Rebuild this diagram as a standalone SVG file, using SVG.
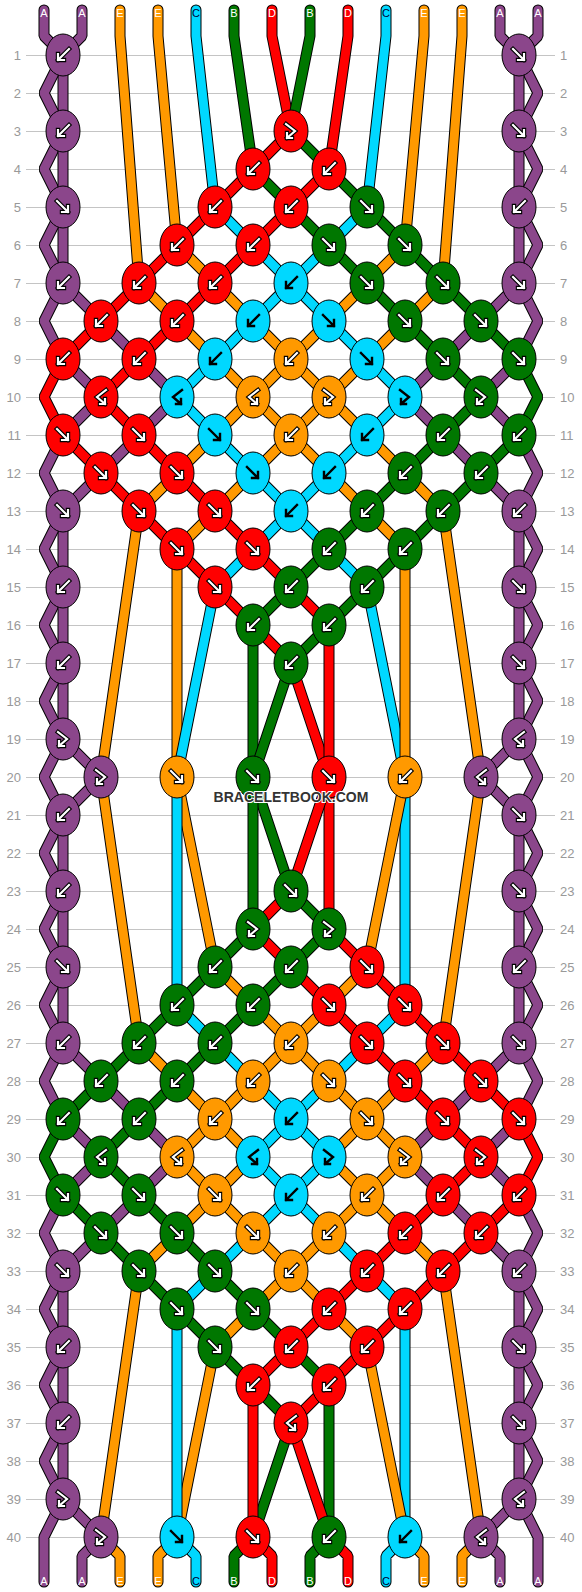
<svg xmlns="http://www.w3.org/2000/svg" width="582" height="1592" viewBox="0 0 582 1592">
<style>
.grid{stroke:#c4c4c4;stroke-width:1;fill:none}
.rn{font-family:"Liberation Sans",Arial,sans-serif;font-size:13px;fill:#999}
.rl{text-anchor:end}
.o{fill:none;stroke:#000;stroke-width:11;stroke-linejoin:bevel;stroke-linecap:round}
.c{fill:none;stroke-width:9;stroke-linejoin:bevel;stroke-linecap:round}
.sA{stroke:#8b468b}.sE{stroke:#ff9900}.sC{stroke:#00d8ff}.sG{stroke:#007700}.sD{stroke:#ff0000}
.kA{fill:#8b468b}.kE{fill:#ff9900}.kC{fill:#00d8ff}.kG{fill:#007700}.kD{fill:#ff0000}
.ao{fill:none;stroke:#000;stroke-width:4.4;stroke-linecap:square;stroke-linejoin:miter}
.ai{fill:none;stroke:#fff;stroke-width:2.2;stroke-linecap:square;stroke-linejoin:miter}
.ab{fill:none;stroke:#000;stroke-width:2.4;stroke-linecap:square;stroke-linejoin:miter}
.lb{font-family:"Liberation Sans",Arial,sans-serif;font-size:11px;fill:#fff;text-anchor:middle}
.lbk{fill:#003}
.wm{font-family:"Liberation Sans",Arial,sans-serif;font-size:14px;font-weight:bold;fill:#333;text-anchor:middle;stroke:#fff;stroke-width:2;paint-order:stroke}
</style>
<defs>
<path id="gB" d="M6,-6L-5,5M-5,-1L-5,5L1,5"/>
<path id="gF" d="M-6,-6L5,5M5,-1L5,5L-1,5"/>
<path id="gFB" d="M-5,-7L4,0L-4,7M-4,2L-4,7L1,7"/>
<path id="gBF" d="M5,-7L-4,0L4,7M4,2L4,7L-1,7"/>
<g id="aB"><use href="#gB" class="ao"/><use href="#gB" class="ai"/></g>
<g id="aF"><use href="#gF" class="ao"/><use href="#gF" class="ai"/></g>
<g id="aFB"><use href="#gFB" class="ao"/><use href="#gFB" class="ai"/></g>
<g id="aBF"><use href="#gBF" class="ao"/><use href="#gBF" class="ai"/></g>
<g id="cB"><use href="#gB" class="ab"/></g>
<g id="cF"><use href="#gF" class="ab"/></g>
<g id="cFB"><use href="#gFB" class="ab"/></g>
<g id="cBF"><use href="#gBF" class="ab"/></g>
<ellipse id="kn" rx="17" ry="21" stroke="#000" stroke-width="1"/>
<path id="p0" d="M44,10L44,36L63,55L63,131L44,169L63,207L63,283L44,321L63,359L101,397L63,435L44,473L63,511L63,587L44,625L63,663L63,739L101,777L63,815L44,853L63,891L63,967L44,1005L63,1043L101,1081L139,1119L177,1157L139,1195L101,1233L63,1271L44,1309L63,1347L63,1423L44,1461L63,1499L44,1537L44,1582"/>
<path id="p1" d="M82,10L82,36L63,55L44,93L63,131L63,207L44,245L63,283L101,321L139,359L177,397L139,435L101,473L63,511L44,549L63,587L63,663L44,701L63,739L44,777L63,815L63,891L44,929L63,967L63,1043L44,1081L63,1119L101,1157L63,1195L44,1233L63,1271L63,1347L44,1385L63,1423L63,1499L101,1537L82,1556L82,1582"/>
<path id="p2" d="M120,10L120,36L139,283L177,321L215,359L253,397L215,435L177,473L139,511L101,777L139,1043L177,1081L215,1119L253,1157L215,1195L177,1233L139,1271L101,1537L120,1556L120,1582"/>
<path id="p3" d="M158,10L158,36L177,245L215,283L253,321L291,359L329,397L291,435L253,473L215,511L177,549L177,777L215,967L253,1005L291,1043L329,1081L367,1119L405,1157L367,1195L329,1233L291,1271L253,1309L215,1347L177,1537L158,1556L158,1582"/>
<path id="p4" d="M196,10L196,36L215,207L253,245L291,283L329,321L367,359L405,397L367,435L329,473L291,511L253,549L215,587L177,777L177,1005L215,1043L253,1081L291,1119L329,1157L291,1195L253,1233L215,1271L177,1309L177,1537L196,1556L196,1582"/>
<path id="p5" d="M234,10L234,36L253,169L291,207L329,245L367,283L405,321L443,359L481,397L443,435L405,473L367,511L329,549L291,587L253,625L253,777L291,891L329,929L291,967L253,1005L215,1043L177,1081L139,1119L101,1157L139,1195L177,1233L215,1271L253,1309L291,1347L329,1385L329,1537L310,1556L310,1582"/>
<path id="p6" d="M272,10L272,36L291,131L253,169L215,207L177,245L139,283L101,321L63,359L44,397L63,435L101,473L139,511L177,549L215,587L253,625L291,663L329,777L329,929L367,967L405,1005L443,1043L481,1081L519,1119L538,1157L519,1195L481,1233L443,1271L405,1309L367,1347L329,1385L291,1423L329,1537L348,1556L348,1582"/>
<path id="p7" d="M310,10L310,36L291,131L329,169L367,207L405,245L443,283L481,321L519,359L538,397L519,435L481,473L443,511L405,549L367,587L329,625L291,663L253,777L253,929L215,967L177,1005L139,1043L101,1081L63,1119L44,1157L63,1195L101,1233L139,1271L177,1309L215,1347L253,1385L291,1423L253,1537L234,1556L234,1582"/>
<path id="p8" d="M348,10L348,36L329,169L291,207L253,245L215,283L177,321L139,359L101,397L139,435L177,473L215,511L253,549L291,587L329,625L329,777L291,891L253,929L291,967L329,1005L367,1043L405,1081L443,1119L481,1157L443,1195L405,1233L367,1271L329,1309L291,1347L253,1385L253,1537L272,1556L272,1582"/>
<path id="p9" d="M386,10L386,36L367,207L329,245L291,283L253,321L215,359L177,397L215,435L253,473L291,511L329,549L367,587L405,777L405,1005L367,1043L329,1081L291,1119L253,1157L291,1195L329,1233L367,1271L405,1309L405,1537L386,1556L386,1582"/>
<path id="p10" d="M424,10L424,36L405,245L367,283L329,321L291,359L253,397L291,435L329,473L367,511L405,549L405,777L367,967L329,1005L291,1043L253,1081L215,1119L177,1157L215,1195L253,1233L291,1271L329,1309L367,1347L405,1537L424,1556L424,1582"/>
<path id="p11" d="M462,10L462,36L443,283L405,321L367,359L329,397L367,435L405,473L443,511L481,777L443,1043L405,1081L367,1119L329,1157L367,1195L405,1233L443,1271L481,1537L462,1556L462,1582"/>
<path id="p12" d="M500,10L500,36L519,55L538,93L519,131L519,207L538,245L519,283L481,321L443,359L405,397L443,435L481,473L519,511L538,549L519,587L519,663L538,701L519,739L538,777L519,815L519,891L538,929L519,967L519,1043L538,1081L519,1119L481,1157L519,1195L538,1233L519,1271L519,1347L538,1385L519,1423L519,1499L481,1537L500,1556L500,1582"/>
<path id="p13" d="M538,10L538,36L519,55L519,131L538,169L519,207L519,283L538,321L519,359L481,397L519,435L538,473L519,511L519,587L538,625L519,663L519,739L481,777L519,815L538,853L519,891L519,967L538,1005L519,1043L481,1081L443,1119L405,1157L443,1195L481,1233L519,1271L538,1309L519,1347L519,1423L538,1461L519,1499L538,1537L538,1582"/>
</defs>
<rect width="582" height="1592" fill="#fff"/>
<path class="grid" shape-rendering="crispEdges" d="M26,55H555M26,93H555M26,131H555M26,169H555M26,207H555M26,245H555M26,283H555M26,321H555M26,359H555M26,397H555M26,435H555M26,473H555M26,511H555M26,549H555M26,587H555M26,625H555M26,663H555M26,701H555M26,739H555M26,777H555M26,815H555M26,853H555M26,891H555M26,929H555M26,967H555M26,1005H555M26,1043H555M26,1081H555M26,1119H555M26,1157H555M26,1195H555M26,1233H555M26,1271H555M26,1309H555M26,1347H555M26,1385H555M26,1423H555M26,1461H555M26,1499H555M26,1537H555"/>
<g id="rownums-left" class="rn rl">
<text x="21" y="59.5">1</text><text x="21" y="97.5">2</text><text x="21" y="135.5">3</text><text x="21" y="173.5">4</text><text x="21" y="211.5">5</text><text x="21" y="249.5">6</text><text x="21" y="287.5">7</text><text x="21" y="325.5">8</text><text x="21" y="363.5">9</text><text x="21" y="401.5">10</text><text x="21" y="439.5">11</text><text x="21" y="477.5">12</text><text x="21" y="515.5">13</text><text x="21" y="553.5">14</text><text x="21" y="591.5">15</text><text x="21" y="629.5">16</text><text x="21" y="667.5">17</text><text x="21" y="705.5">18</text><text x="21" y="743.5">19</text><text x="21" y="781.5">20</text><text x="21" y="819.5">21</text><text x="21" y="857.5">22</text><text x="21" y="895.5">23</text><text x="21" y="933.5">24</text><text x="21" y="971.5">25</text><text x="21" y="1009.5">26</text><text x="21" y="1047.5">27</text><text x="21" y="1085.5">28</text><text x="21" y="1123.5">29</text><text x="21" y="1161.5">30</text><text x="21" y="1199.5">31</text><text x="21" y="1237.5">32</text><text x="21" y="1275.5">33</text><text x="21" y="1313.5">34</text><text x="21" y="1351.5">35</text><text x="21" y="1389.5">36</text><text x="21" y="1427.5">37</text><text x="21" y="1465.5">38</text><text x="21" y="1503.5">39</text><text x="21" y="1541.5">40</text>
</g>
<g id="rownums-right" class="rn">
<text x="560" y="59.5">1</text><text x="560" y="97.5">2</text><text x="560" y="135.5">3</text><text x="560" y="173.5">4</text><text x="560" y="211.5">5</text><text x="560" y="249.5">6</text><text x="560" y="287.5">7</text><text x="560" y="325.5">8</text><text x="560" y="363.5">9</text><text x="560" y="401.5">10</text><text x="560" y="439.5">11</text><text x="560" y="477.5">12</text><text x="560" y="515.5">13</text><text x="560" y="553.5">14</text><text x="560" y="591.5">15</text><text x="560" y="629.5">16</text><text x="560" y="667.5">17</text><text x="560" y="705.5">18</text><text x="560" y="743.5">19</text><text x="560" y="781.5">20</text><text x="560" y="819.5">21</text><text x="560" y="857.5">22</text><text x="560" y="895.5">23</text><text x="560" y="933.5">24</text><text x="560" y="971.5">25</text><text x="560" y="1009.5">26</text><text x="560" y="1047.5">27</text><text x="560" y="1085.5">28</text><text x="560" y="1123.5">29</text><text x="560" y="1161.5">30</text><text x="560" y="1199.5">31</text><text x="560" y="1237.5">32</text><text x="560" y="1275.5">33</text><text x="560" y="1313.5">34</text><text x="560" y="1351.5">35</text><text x="560" y="1389.5">36</text><text x="560" y="1427.5">37</text><text x="560" y="1465.5">38</text><text x="560" y="1503.5">39</text><text x="560" y="1541.5">40</text>
</g>
<g id="connectors">
<g id="str0"><use href="#p0" class="o"/><use href="#p0" class="c sA"/></g>
<g id="str1"><use href="#p1" class="o"/><use href="#p1" class="c sA"/></g>
<g id="str2"><use href="#p2" class="o"/><use href="#p2" class="c sE"/></g>
<g id="str3"><use href="#p3" class="o"/><use href="#p3" class="c sE"/></g>
<g id="str4"><use href="#p4" class="o"/><use href="#p4" class="c sC"/></g>
<g id="str5"><use href="#p5" class="o"/><use href="#p5" class="c sG"/></g>
<g id="str6"><use href="#p6" class="o"/><use href="#p6" class="c sD"/></g>
<g id="str7"><use href="#p7" class="o"/><use href="#p7" class="c sG"/></g>
<g id="str8"><use href="#p8" class="o"/><use href="#p8" class="c sD"/></g>
<g id="str9"><use href="#p9" class="o"/><use href="#p9" class="c sC"/></g>
<g id="str10"><use href="#p10" class="o"/><use href="#p10" class="c sE"/></g>
<g id="str11"><use href="#p11" class="o"/><use href="#p11" class="c sE"/></g>
<g id="str12"><use href="#p12" class="o"/><use href="#p12" class="c sA"/></g>
<g id="str13"><use href="#p13" class="o"/><use href="#p13" class="c sA"/></g>
</g>
<g id="knots">
<g id="k1-0" class="kA" transform="translate(63,55)"><use href="#kn"/><use href="#aB"/></g>
<g id="k1-12" class="kA" transform="translate(519,55)"><use href="#kn"/><use href="#aF"/></g>
<g id="k3-0" class="kA" transform="translate(63,131)"><use href="#kn"/><use href="#aB"/></g>
<g id="k3-6" class="kD" transform="translate(291,131)"><use href="#kn"/><use href="#aFB"/></g>
<g id="k3-12" class="kA" transform="translate(519,131)"><use href="#kn"/><use href="#aF"/></g>
<g id="k4-5" class="kD" transform="translate(253,169)"><use href="#kn"/><use href="#aB"/></g>
<g id="k4-7" class="kD" transform="translate(329,169)"><use href="#kn"/><use href="#aB"/></g>
<g id="k5-0" class="kA" transform="translate(63,207)"><use href="#kn"/><use href="#aF"/></g>
<g id="k5-4" class="kD" transform="translate(215,207)"><use href="#kn"/><use href="#aB"/></g>
<g id="k5-6" class="kD" transform="translate(291,207)"><use href="#kn"/><use href="#aB"/></g>
<g id="k5-8" class="kG" transform="translate(367,207)"><use href="#kn"/><use href="#aF"/></g>
<g id="k5-12" class="kA" transform="translate(519,207)"><use href="#kn"/><use href="#aB"/></g>
<g id="k6-3" class="kD" transform="translate(177,245)"><use href="#kn"/><use href="#aB"/></g>
<g id="k6-5" class="kD" transform="translate(253,245)"><use href="#kn"/><use href="#aB"/></g>
<g id="k6-7" class="kG" transform="translate(329,245)"><use href="#kn"/><use href="#aF"/></g>
<g id="k6-9" class="kG" transform="translate(405,245)"><use href="#kn"/><use href="#aF"/></g>
<g id="k7-0" class="kA" transform="translate(63,283)"><use href="#kn"/><use href="#aB"/></g>
<g id="k7-2" class="kD" transform="translate(139,283)"><use href="#kn"/><use href="#aB"/></g>
<g id="k7-4" class="kD" transform="translate(215,283)"><use href="#kn"/><use href="#aB"/></g>
<g id="k7-6" class="kC" transform="translate(291,283)"><use href="#kn"/><use href="#cB"/></g>
<g id="k7-8" class="kG" transform="translate(367,283)"><use href="#kn"/><use href="#aF"/></g>
<g id="k7-10" class="kG" transform="translate(443,283)"><use href="#kn"/><use href="#aF"/></g>
<g id="k7-12" class="kA" transform="translate(519,283)"><use href="#kn"/><use href="#aF"/></g>
<g id="k8-1" class="kD" transform="translate(101,321)"><use href="#kn"/><use href="#aB"/></g>
<g id="k8-3" class="kD" transform="translate(177,321)"><use href="#kn"/><use href="#aB"/></g>
<g id="k8-5" class="kC" transform="translate(253,321)"><use href="#kn"/><use href="#cB"/></g>
<g id="k8-7" class="kC" transform="translate(329,321)"><use href="#kn"/><use href="#cF"/></g>
<g id="k8-9" class="kG" transform="translate(405,321)"><use href="#kn"/><use href="#aF"/></g>
<g id="k8-11" class="kG" transform="translate(481,321)"><use href="#kn"/><use href="#aF"/></g>
<g id="k9-0" class="kD" transform="translate(63,359)"><use href="#kn"/><use href="#aB"/></g>
<g id="k9-2" class="kD" transform="translate(139,359)"><use href="#kn"/><use href="#aB"/></g>
<g id="k9-4" class="kC" transform="translate(215,359)"><use href="#kn"/><use href="#cB"/></g>
<g id="k9-6" class="kE" transform="translate(291,359)"><use href="#kn"/><use href="#aB"/></g>
<g id="k9-8" class="kC" transform="translate(367,359)"><use href="#kn"/><use href="#cF"/></g>
<g id="k9-10" class="kG" transform="translate(443,359)"><use href="#kn"/><use href="#aF"/></g>
<g id="k9-12" class="kG" transform="translate(519,359)"><use href="#kn"/><use href="#aF"/></g>
<g id="k10-1" class="kD" transform="translate(101,397)"><use href="#kn"/><use href="#aBF"/></g>
<g id="k10-3" class="kC" transform="translate(177,397)"><use href="#kn"/><use href="#cBF"/></g>
<g id="k10-5" class="kE" transform="translate(253,397)"><use href="#kn"/><use href="#aBF"/></g>
<g id="k10-7" class="kE" transform="translate(329,397)"><use href="#kn"/><use href="#aFB"/></g>
<g id="k10-9" class="kC" transform="translate(405,397)"><use href="#kn"/><use href="#cFB"/></g>
<g id="k10-11" class="kG" transform="translate(481,397)"><use href="#kn"/><use href="#aFB"/></g>
<g id="k11-0" class="kD" transform="translate(63,435)"><use href="#kn"/><use href="#aF"/></g>
<g id="k11-2" class="kD" transform="translate(139,435)"><use href="#kn"/><use href="#aF"/></g>
<g id="k11-4" class="kC" transform="translate(215,435)"><use href="#kn"/><use href="#cF"/></g>
<g id="k11-6" class="kE" transform="translate(291,435)"><use href="#kn"/><use href="#aB"/></g>
<g id="k11-8" class="kC" transform="translate(367,435)"><use href="#kn"/><use href="#cB"/></g>
<g id="k11-10" class="kG" transform="translate(443,435)"><use href="#kn"/><use href="#aB"/></g>
<g id="k11-12" class="kG" transform="translate(519,435)"><use href="#kn"/><use href="#aB"/></g>
<g id="k12-1" class="kD" transform="translate(101,473)"><use href="#kn"/><use href="#aF"/></g>
<g id="k12-3" class="kD" transform="translate(177,473)"><use href="#kn"/><use href="#aF"/></g>
<g id="k12-5" class="kC" transform="translate(253,473)"><use href="#kn"/><use href="#cF"/></g>
<g id="k12-7" class="kC" transform="translate(329,473)"><use href="#kn"/><use href="#cB"/></g>
<g id="k12-9" class="kG" transform="translate(405,473)"><use href="#kn"/><use href="#aB"/></g>
<g id="k12-11" class="kG" transform="translate(481,473)"><use href="#kn"/><use href="#aB"/></g>
<g id="k13-0" class="kA" transform="translate(63,511)"><use href="#kn"/><use href="#aF"/></g>
<g id="k13-2" class="kD" transform="translate(139,511)"><use href="#kn"/><use href="#aF"/></g>
<g id="k13-4" class="kD" transform="translate(215,511)"><use href="#kn"/><use href="#aF"/></g>
<g id="k13-6" class="kC" transform="translate(291,511)"><use href="#kn"/><use href="#cB"/></g>
<g id="k13-8" class="kG" transform="translate(367,511)"><use href="#kn"/><use href="#aB"/></g>
<g id="k13-10" class="kG" transform="translate(443,511)"><use href="#kn"/><use href="#aB"/></g>
<g id="k13-12" class="kA" transform="translate(519,511)"><use href="#kn"/><use href="#aB"/></g>
<g id="k14-3" class="kD" transform="translate(177,549)"><use href="#kn"/><use href="#aF"/></g>
<g id="k14-5" class="kD" transform="translate(253,549)"><use href="#kn"/><use href="#aF"/></g>
<g id="k14-7" class="kG" transform="translate(329,549)"><use href="#kn"/><use href="#aB"/></g>
<g id="k14-9" class="kG" transform="translate(405,549)"><use href="#kn"/><use href="#aB"/></g>
<g id="k15-0" class="kA" transform="translate(63,587)"><use href="#kn"/><use href="#aB"/></g>
<g id="k15-4" class="kD" transform="translate(215,587)"><use href="#kn"/><use href="#aF"/></g>
<g id="k15-6" class="kG" transform="translate(291,587)"><use href="#kn"/><use href="#aB"/></g>
<g id="k15-8" class="kG" transform="translate(367,587)"><use href="#kn"/><use href="#aB"/></g>
<g id="k15-12" class="kA" transform="translate(519,587)"><use href="#kn"/><use href="#aF"/></g>
<g id="k16-5" class="kG" transform="translate(253,625)"><use href="#kn"/><use href="#aB"/></g>
<g id="k16-7" class="kG" transform="translate(329,625)"><use href="#kn"/><use href="#aB"/></g>
<g id="k17-0" class="kA" transform="translate(63,663)"><use href="#kn"/><use href="#aB"/></g>
<g id="k17-6" class="kG" transform="translate(291,663)"><use href="#kn"/><use href="#aB"/></g>
<g id="k17-12" class="kA" transform="translate(519,663)"><use href="#kn"/><use href="#aF"/></g>
<g id="k19-0" class="kA" transform="translate(63,739)"><use href="#kn"/><use href="#aFB"/></g>
<g id="k19-12" class="kA" transform="translate(519,739)"><use href="#kn"/><use href="#aBF"/></g>
<g id="k20-1" class="kA" transform="translate(101,777)"><use href="#kn"/><use href="#aFB"/></g>
<g id="k20-3" class="kE" transform="translate(177,777)"><use href="#kn"/><use href="#aF"/></g>
<g id="k20-5" class="kG" transform="translate(253,777)"><use href="#kn"/><use href="#aF"/></g>
<g id="k20-7" class="kD" transform="translate(329,777)"><use href="#kn"/><use href="#aF"/></g>
<g id="k20-9" class="kE" transform="translate(405,777)"><use href="#kn"/><use href="#aB"/></g>
<g id="k20-11" class="kA" transform="translate(481,777)"><use href="#kn"/><use href="#aBF"/></g>
<g id="k21-0" class="kA" transform="translate(63,815)"><use href="#kn"/><use href="#aB"/></g>
<g id="k21-12" class="kA" transform="translate(519,815)"><use href="#kn"/><use href="#aF"/></g>
<g id="k23-0" class="kA" transform="translate(63,891)"><use href="#kn"/><use href="#aB"/></g>
<g id="k23-6" class="kG" transform="translate(291,891)"><use href="#kn"/><use href="#aF"/></g>
<g id="k23-12" class="kA" transform="translate(519,891)"><use href="#kn"/><use href="#aF"/></g>
<g id="k24-5" class="kG" transform="translate(253,929)"><use href="#kn"/><use href="#aFB"/></g>
<g id="k24-7" class="kG" transform="translate(329,929)"><use href="#kn"/><use href="#aFB"/></g>
<g id="k25-0" class="kA" transform="translate(63,967)"><use href="#kn"/><use href="#aF"/></g>
<g id="k25-4" class="kG" transform="translate(215,967)"><use href="#kn"/><use href="#aB"/></g>
<g id="k25-6" class="kG" transform="translate(291,967)"><use href="#kn"/><use href="#aB"/></g>
<g id="k25-8" class="kD" transform="translate(367,967)"><use href="#kn"/><use href="#aF"/></g>
<g id="k25-12" class="kA" transform="translate(519,967)"><use href="#kn"/><use href="#aB"/></g>
<g id="k26-3" class="kG" transform="translate(177,1005)"><use href="#kn"/><use href="#aB"/></g>
<g id="k26-5" class="kG" transform="translate(253,1005)"><use href="#kn"/><use href="#aB"/></g>
<g id="k26-7" class="kD" transform="translate(329,1005)"><use href="#kn"/><use href="#aF"/></g>
<g id="k26-9" class="kD" transform="translate(405,1005)"><use href="#kn"/><use href="#aF"/></g>
<g id="k27-0" class="kA" transform="translate(63,1043)"><use href="#kn"/><use href="#aB"/></g>
<g id="k27-2" class="kG" transform="translate(139,1043)"><use href="#kn"/><use href="#aB"/></g>
<g id="k27-4" class="kG" transform="translate(215,1043)"><use href="#kn"/><use href="#aB"/></g>
<g id="k27-6" class="kE" transform="translate(291,1043)"><use href="#kn"/><use href="#aB"/></g>
<g id="k27-8" class="kD" transform="translate(367,1043)"><use href="#kn"/><use href="#aF"/></g>
<g id="k27-10" class="kD" transform="translate(443,1043)"><use href="#kn"/><use href="#aF"/></g>
<g id="k27-12" class="kA" transform="translate(519,1043)"><use href="#kn"/><use href="#aF"/></g>
<g id="k28-1" class="kG" transform="translate(101,1081)"><use href="#kn"/><use href="#aB"/></g>
<g id="k28-3" class="kG" transform="translate(177,1081)"><use href="#kn"/><use href="#aB"/></g>
<g id="k28-5" class="kE" transform="translate(253,1081)"><use href="#kn"/><use href="#aB"/></g>
<g id="k28-7" class="kE" transform="translate(329,1081)"><use href="#kn"/><use href="#aF"/></g>
<g id="k28-9" class="kD" transform="translate(405,1081)"><use href="#kn"/><use href="#aF"/></g>
<g id="k28-11" class="kD" transform="translate(481,1081)"><use href="#kn"/><use href="#aF"/></g>
<g id="k29-0" class="kG" transform="translate(63,1119)"><use href="#kn"/><use href="#aB"/></g>
<g id="k29-2" class="kG" transform="translate(139,1119)"><use href="#kn"/><use href="#aB"/></g>
<g id="k29-4" class="kE" transform="translate(215,1119)"><use href="#kn"/><use href="#aB"/></g>
<g id="k29-6" class="kC" transform="translate(291,1119)"><use href="#kn"/><use href="#cB"/></g>
<g id="k29-8" class="kE" transform="translate(367,1119)"><use href="#kn"/><use href="#aF"/></g>
<g id="k29-10" class="kD" transform="translate(443,1119)"><use href="#kn"/><use href="#aF"/></g>
<g id="k29-12" class="kD" transform="translate(519,1119)"><use href="#kn"/><use href="#aF"/></g>
<g id="k30-1" class="kG" transform="translate(101,1157)"><use href="#kn"/><use href="#aBF"/></g>
<g id="k30-3" class="kE" transform="translate(177,1157)"><use href="#kn"/><use href="#aBF"/></g>
<g id="k30-5" class="kC" transform="translate(253,1157)"><use href="#kn"/><use href="#cBF"/></g>
<g id="k30-7" class="kC" transform="translate(329,1157)"><use href="#kn"/><use href="#cFB"/></g>
<g id="k30-9" class="kE" transform="translate(405,1157)"><use href="#kn"/><use href="#aFB"/></g>
<g id="k30-11" class="kD" transform="translate(481,1157)"><use href="#kn"/><use href="#aFB"/></g>
<g id="k31-0" class="kG" transform="translate(63,1195)"><use href="#kn"/><use href="#aF"/></g>
<g id="k31-2" class="kG" transform="translate(139,1195)"><use href="#kn"/><use href="#aF"/></g>
<g id="k31-4" class="kE" transform="translate(215,1195)"><use href="#kn"/><use href="#aF"/></g>
<g id="k31-6" class="kC" transform="translate(291,1195)"><use href="#kn"/><use href="#cB"/></g>
<g id="k31-8" class="kE" transform="translate(367,1195)"><use href="#kn"/><use href="#aB"/></g>
<g id="k31-10" class="kD" transform="translate(443,1195)"><use href="#kn"/><use href="#aB"/></g>
<g id="k31-12" class="kD" transform="translate(519,1195)"><use href="#kn"/><use href="#aB"/></g>
<g id="k32-1" class="kG" transform="translate(101,1233)"><use href="#kn"/><use href="#aF"/></g>
<g id="k32-3" class="kG" transform="translate(177,1233)"><use href="#kn"/><use href="#aF"/></g>
<g id="k32-5" class="kE" transform="translate(253,1233)"><use href="#kn"/><use href="#aF"/></g>
<g id="k32-7" class="kE" transform="translate(329,1233)"><use href="#kn"/><use href="#aB"/></g>
<g id="k32-9" class="kD" transform="translate(405,1233)"><use href="#kn"/><use href="#aB"/></g>
<g id="k32-11" class="kD" transform="translate(481,1233)"><use href="#kn"/><use href="#aB"/></g>
<g id="k33-0" class="kA" transform="translate(63,1271)"><use href="#kn"/><use href="#aF"/></g>
<g id="k33-2" class="kG" transform="translate(139,1271)"><use href="#kn"/><use href="#aF"/></g>
<g id="k33-4" class="kG" transform="translate(215,1271)"><use href="#kn"/><use href="#aF"/></g>
<g id="k33-6" class="kE" transform="translate(291,1271)"><use href="#kn"/><use href="#aB"/></g>
<g id="k33-8" class="kD" transform="translate(367,1271)"><use href="#kn"/><use href="#aB"/></g>
<g id="k33-10" class="kD" transform="translate(443,1271)"><use href="#kn"/><use href="#aB"/></g>
<g id="k33-12" class="kA" transform="translate(519,1271)"><use href="#kn"/><use href="#aB"/></g>
<g id="k34-3" class="kG" transform="translate(177,1309)"><use href="#kn"/><use href="#aF"/></g>
<g id="k34-5" class="kG" transform="translate(253,1309)"><use href="#kn"/><use href="#aF"/></g>
<g id="k34-7" class="kD" transform="translate(329,1309)"><use href="#kn"/><use href="#aB"/></g>
<g id="k34-9" class="kD" transform="translate(405,1309)"><use href="#kn"/><use href="#aB"/></g>
<g id="k35-0" class="kA" transform="translate(63,1347)"><use href="#kn"/><use href="#aB"/></g>
<g id="k35-4" class="kG" transform="translate(215,1347)"><use href="#kn"/><use href="#aF"/></g>
<g id="k35-6" class="kD" transform="translate(291,1347)"><use href="#kn"/><use href="#aB"/></g>
<g id="k35-8" class="kD" transform="translate(367,1347)"><use href="#kn"/><use href="#aB"/></g>
<g id="k35-12" class="kA" transform="translate(519,1347)"><use href="#kn"/><use href="#aF"/></g>
<g id="k36-5" class="kD" transform="translate(253,1385)"><use href="#kn"/><use href="#aB"/></g>
<g id="k36-7" class="kD" transform="translate(329,1385)"><use href="#kn"/><use href="#aB"/></g>
<g id="k37-0" class="kA" transform="translate(63,1423)"><use href="#kn"/><use href="#aB"/></g>
<g id="k37-6" class="kD" transform="translate(291,1423)"><use href="#kn"/><use href="#aBF"/></g>
<g id="k37-12" class="kA" transform="translate(519,1423)"><use href="#kn"/><use href="#aF"/></g>
<g id="k39-0" class="kA" transform="translate(63,1499)"><use href="#kn"/><use href="#aFB"/></g>
<g id="k39-12" class="kA" transform="translate(519,1499)"><use href="#kn"/><use href="#aBF"/></g>
<g id="k40-1" class="kA" transform="translate(101,1537)"><use href="#kn"/><use href="#aFB"/></g>
<g id="k40-3" class="kC" transform="translate(177,1537)"><use href="#kn"/><use href="#cF"/></g>
<g id="k40-5" class="kD" transform="translate(253,1537)"><use href="#kn"/><use href="#aF"/></g>
<g id="k40-7" class="kG" transform="translate(329,1537)"><use href="#kn"/><use href="#aB"/></g>
<g id="k40-9" class="kC" transform="translate(405,1537)"><use href="#kn"/><use href="#cB"/></g>
<g id="k40-11" class="kA" transform="translate(481,1537)"><use href="#kn"/><use href="#aBF"/></g>
</g>
<g id="labels-top" class="lb">
<text x="44" y="16.5">A</text><text x="82" y="16.5">A</text><text x="120" y="16.5">E</text><text x="158" y="16.5">E</text><text x="196" y="16.5" class="lbk">C</text><text x="234" y="16.5">B</text><text x="272" y="16.5">D</text><text x="310" y="16.5">B</text><text x="348" y="16.5">D</text><text x="386" y="16.5" class="lbk">C</text><text x="424" y="16.5">E</text><text x="462" y="16.5">E</text><text x="500" y="16.5">A</text><text x="538" y="16.5">A</text>
</g>
<g id="labels-bottom" class="lb">
<text x="44" y="1584.5">A</text><text x="82" y="1584.5">A</text><text x="120" y="1584.5">E</text><text x="158" y="1584.5">E</text><text x="196" y="1584.5" class="lbk">C</text><text x="234" y="1584.5">B</text><text x="272" y="1584.5">D</text><text x="310" y="1584.5">B</text><text x="348" y="1584.5">D</text><text x="386" y="1584.5" class="lbk">C</text><text x="424" y="1584.5">E</text><text x="462" y="1584.5">E</text><text x="500" y="1584.5">A</text><text x="538" y="1584.5">A</text>
</g>
<text class="wm" x="291" y="802">BRACELETBOOK.COM</text>
</svg>
